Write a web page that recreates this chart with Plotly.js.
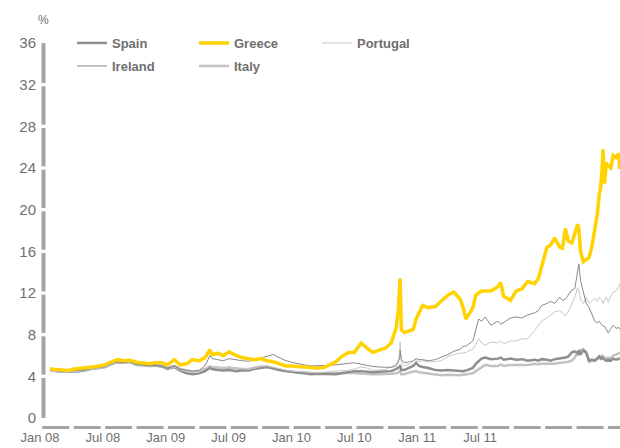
<!DOCTYPE html>
<html><head><meta charset="utf-8">
<script src="https://cdn.plot.ly/plotly-3.0.1.min.js"></script>
<style>html,body{margin:0;padding:0;background:#fff}#chart{width:620px;height:448px}</style>
</head><body><div id="chart"></div>
<script>
const dates = [
'2008-01-02','2008-01-15','2008-02-01','2008-02-15','2008-03-01','2008-03-15','2008-04-01','2008-04-15','2008-05-01','2008-05-15','2008-06-01','2008-06-15',
'2008-07-01','2008-07-15','2008-08-01','2008-08-15','2008-09-01','2008-09-15','2008-10-01','2008-10-15','2008-11-01','2008-11-15','2008-12-01','2008-12-15',
'2009-01-01','2009-01-15','2009-01-27','2009-02-01','2009-02-15','2009-03-01','2009-03-15','2009-04-01','2009-04-15','2009-05-01','2009-05-15','2009-06-01','2009-06-15',
'2009-07-01','2009-07-15','2009-08-01','2009-08-15','2009-09-01','2009-09-15','2009-10-01','2009-10-15','2009-11-01','2009-11-15','2009-12-01','2009-12-15',
'2010-01-01','2010-01-15','2010-02-01','2010-02-15','2010-03-01','2010-03-15','2010-04-01','2010-04-15','2010-04-27','2010-05-03','2010-05-06','2010-05-07','2010-05-10','2010-05-17',
'2010-06-01','2010-06-08','2010-06-15','2010-06-22','2010-07-01','2010-07-15','2010-08-01','2010-08-15','2010-09-01','2010-09-15','2010-10-01','2010-10-08','2010-10-15',
'2010-11-01','2010-11-08','2010-11-15','2010-11-22','2010-12-01','2010-12-15',
'2011-01-01','2011-01-08','2011-01-15','2011-02-01','2011-02-15','2011-03-01','2011-03-15','2011-04-01','2011-04-10','2011-04-18','2011-05-01','2011-05-10','2011-05-20',
'2011-06-01','2011-06-08','2011-06-15','2011-06-22','2011-07-01','2011-07-08','2011-07-15','2011-07-18','2011-07-22','2011-07-29','2011-08-05','2011-08-12','2011-08-19','2011-08-26',
'2011-09-01','2011-09-06','2011-09-09','2011-09-13','2011-09-15','2011-09-19','2011-09-23','2011-09-28','2011-10-04','2011-10-10','2011-10-17','2011-10-24','2011-10-26'
];

const greece = [
4.7,4.65,4.6,4.55,4.7,4.75,4.8,4.9,5.0,5.1,5.4,5.6,
5.5,5.55,5.35,5.3,5.2,5.3,5.3,5.1,5.6,5.1,5.2,5.6,
5.5,5.8,6.55,6.1,6.2,6.0,6.35,6.0,5.8,5.7,5.6,5.7,5.5,
5.4,5.2,5.0,5.0,4.95,4.9,4.85,4.8,4.85,5.1,5.4,5.9,
6.3,6.3,7.2,6.7,6.3,6.5,6.7,7.2,8.6,10.5,12.0,13.4,8.5,8.2,
8.4,8.5,9.5,10.0,10.8,10.6,10.7,11.2,11.8,12.1,11.4,10.6,9.5,
10.6,11.8,12.0,12.2,12.2,12.2,
12.6,13.0,11.7,11.3,12.2,12.4,13.1,12.9,13.4,14.5,16.4,16.6,17.3,
16.4,16.3,18.2,17.0,16.8,17.6,18.6,18.2,16.0,15.0,15.2,15.4,16.5,18.2,
19.5,21.5,22.0,24.0,25.8,22.5,24.5,24.2,24.0,25.2,25.0,25.4,23.9
];

const ireland = [
4.65,4.55,4.5,4.5,4.6,4.55,4.65,4.8,4.85,4.95,5.25,5.4,
5.35,5.4,5.15,5.1,5.0,5.05,4.95,4.75,5.0,4.7,4.6,4.5,
4.6,5.0,6.0,5.7,5.6,5.5,5.7,5.55,5.5,5.45,5.55,5.75,5.9,
6.1,5.8,5.5,5.35,5.25,5.1,5.0,5.0,5.0,5.05,5.1,5.2,
5.25,5.3,5.15,5.05,4.95,4.9,4.85,4.85,5.0,5.4,5.8,6.5,5.6,5.3,
5.4,5.5,5.7,5.6,5.6,5.5,5.6,5.8,6.1,6.4,6.6,6.9,6.9,
7.4,8.4,9.5,9.3,9.7,8.9,
9.3,9.0,9.2,9.6,9.7,9.6,9.9,10.1,10.3,10.8,11.0,11.2,11.0,
11.6,11.3,11.4,11.8,12.3,12.4,13.9,14.8,13.2,12.0,11.0,10.6,10.0,9.3,
9.1,9.3,9.1,8.9,8.8,8.8,8.5,8.15,8.6,8.9,8.6,8.7,8.5
];

const portugal = [
4.55,4.45,4.4,4.4,4.5,4.45,4.55,4.7,4.75,4.85,5.15,5.3,
5.25,5.35,5.05,5.0,4.95,5.0,4.9,4.7,4.9,4.6,4.5,4.35,
4.4,4.7,5.0,4.9,4.85,4.8,4.9,4.8,4.7,4.65,4.75,4.95,5.0,
4.85,4.7,4.6,4.5,4.45,4.4,4.35,4.35,4.4,4.45,4.45,4.5,
4.6,4.7,4.9,4.8,4.6,4.6,4.65,4.9,5.2,5.6,6.2,7.3,5.4,5.0,
5.2,5.5,5.6,5.4,5.5,5.4,5.4,5.5,5.9,6.1,6.2,6.3,6.3,
6.6,7.1,7.6,7.2,7.0,7.3,
7.2,7.4,7.1,7.4,7.4,7.6,7.6,8.4,8.9,9.3,9.6,9.9,10.2,
10.3,10.0,9.8,10.2,11.0,11.6,12.5,12.3,11.4,11.0,11.6,11.0,11.2,11.5,
11.2,11.6,11.4,11.3,11.0,11.4,11.6,11.1,11.7,12.1,12.2,12.6,12.9
];

const spain = [
4.6,4.5,4.45,4.45,4.5,4.5,4.6,4.75,4.8,4.9,5.2,5.35,
5.3,5.4,5.1,5.1,5.0,5.05,4.95,4.7,4.9,4.55,4.3,4.2,
4.3,4.5,4.8,4.7,4.6,4.55,4.6,4.5,4.55,4.55,4.7,4.85,4.9,
4.75,4.6,4.5,4.4,4.35,4.3,4.2,4.25,4.25,4.25,4.2,4.3,
4.45,4.5,4.5,4.45,4.4,4.45,4.45,4.5,4.7,4.8,4.9,5.1,4.6,4.6,
4.9,5.0,5.3,5.0,4.9,4.8,4.6,4.55,4.6,4.55,4.5,4.5,4.55,
4.8,5.2,5.5,5.7,5.8,5.65,
5.7,5.8,5.6,5.7,5.6,5.65,5.5,5.6,5.5,5.65,5.6,5.5,5.65,
5.7,5.8,5.8,5.9,6.3,6.4,6.2,6.5,6.1,6.5,6.3,5.5,5.6,5.5,
5.7,5.9,5.7,5.8,5.7,5.6,5.5,5.6,5.5,5.7,5.6,5.7,5.6
];

const italy = [
4.7,4.6,4.55,4.5,4.6,4.6,4.7,4.85,4.9,5.0,5.3,5.45,
5.4,5.45,5.2,5.15,5.05,5.1,5.0,4.8,5.0,4.7,4.55,4.45,
4.5,4.7,4.95,4.9,4.85,4.8,4.85,4.75,4.7,4.7,4.8,4.95,4.95,
4.8,4.65,4.5,4.45,4.4,4.35,4.3,4.3,4.3,4.3,4.25,4.3,
4.35,4.3,4.3,4.25,4.2,4.2,4.2,4.25,4.3,4.35,4.5,4.6,4.2,4.2,
4.4,4.45,4.5,4.4,4.35,4.25,4.2,4.1,4.15,4.1,4.1,4.15,4.2,
4.3,4.5,4.7,4.9,5.1,5.0,
5.0,5.15,5.0,5.1,5.1,5.15,5.1,5.2,5.15,5.2,5.2,5.15,5.2,
5.3,5.3,5.35,5.4,5.5,5.8,6.3,6.0,6.5,6.6,6.2,5.4,5.5,5.6,
5.7,5.9,5.8,6.0,5.9,5.8,5.7,5.8,5.7,6.0,6.1,6.2,6.25
];

const xTickLabels = ['Jan 08','Jul 08','Jan 09','Jul 09','Jan 10','Jul 10','Jan 11','Jul 11'];
const yTickValues = [0,4,8,12,16,20,24,28,32,36];

const FONT = 'Liberation Sans, Arial, sans-serif';
const TEXT = '#6f6f6f';
const AXIS = '#a4a4a4';

const series = [
  {name:'Italy',    y: italy,    color:'#c2c2c2', width:2.5, legend:'legend5'},
  {name:'Spain',    y: spain,    color:'#8e8e8e', width:2.5, legend:'legend'},
  {name:'Portugal', y: portugal, color:'#c8c8c8', width:1,   legend:'legend3'},
  {name:'Ireland',  y: ireland,  color:'#8a8a8a', width:1,   legend:'legend4'},
  {name:'Greece',   y: greece,   color:'#ffd200', width:3.5, legend:'legend2'}
];

const traces = series.map(s => ({
  type:'scatter', mode:'lines', name:s.name, x:dates, y:s.y,
  line:{color:s.color, width:s.width}, legend:s.legend, hoverinfo:'skip'
}));

// plot area: left 37px, right 620px, top 43px, bottom 418px
const L = 37, W = 583, T = 43, H = 375;
const px2paperX = p => (p - L) / W;
const px2paperY = p => (T + H - p) / H;

function legendAt(xp, yp) {
  return {
    x: px2paperX(xp), y: px2paperY(yp), xanchor:'left', yanchor:'middle',
    orientation:'h', bgcolor:'rgba(0,0,0,0)', borderwidth:0,
    font:{family:FONT, size:13, color:TEXT, weight:'bold'},
    itemclick:false, itemdoubleclick:false
  };
}

const shapes = [];
// y axis line, broken at each tick
const yLineX = px2paperX(43.5);
for (let k = 0; k < yTickValues.length - 1; k++) {
  const a = yTickValues[k], b = yTickValues[k+1];
  shapes.push({type:'line', xref:'paper', yref:'y', x0:yLineX, x1:yLineX,
    y0: k === 0 ? a : a + 0.16, y1: k === yTickValues.length - 2 ? b : b - 0.16,
    line:{color:AXIS, width:4}});
}
// x axis line, broken every quarter
for (let k = 0; k < 19; k++) {
  shapes.push({type:'line', xref:'x2', yref:'paper', x0:k*0.5 + 0.035, x1:(k+1)*0.5 - 0.035,
    y0: px2paperY(427.5), y1: px2paperY(427.5), line:{color:AXIS, width:3}});
}

const layout = {
  width:620, height:448,
  margin:{l:L, r:620 - L - W, t:T, b:448 - T - H, pad:0},
  paper_bgcolor:'#fff', plot_bgcolor:'#fff',
  font:{family:FONT, color:TEXT},
  xaxis:{type:'date', range:['2007-12-01 05:00','2011-10-26 14:00'],
    showticklabels:false, showgrid:false, zeroline:false, showline:false, ticks:'', fixedrange:true},
  xaxis2:{overlaying:'x', anchor:'y', side:'bottom', range:[-0.048, 9.227],
    tickmode:'array', tickvals:xTickLabels.map((_, i) => i), ticktext:xTickLabels,
    showgrid:false, zeroline:false, showline:false,
    ticks:'outside', ticklen:7, tickcolor:'rgba(0,0,0,0)',
    tickfont:{family:FONT, size:13, color:TEXT}, fixedrange:true},
  yaxis:{range:[0,36], tickmode:'array', tickvals:yTickValues,
    showgrid:false, zeroline:false, showline:false, ticks:'',
    tickfont:{family:FONT, size:15, color:TEXT}, fixedrange:true},
  showlegend:true,
  legend:  legendAt(72, 43),
  legend2: legendAt(194, 43),
  legend3: legendAt(317, 43),
  legend4: legendAt(72, 66),
  legend5: legendAt(194, 66),
  shapes:shapes,
  annotations:[{text:'%', xref:'paper', yref:'paper', x:px2paperX(43), y:px2paperY(20),
    xanchor:'center', yanchor:'middle', showarrow:false, font:{family:FONT, size:12, color:TEXT}}]
};

Plotly.newPlot('chart', traces, layout, {staticPlot:true, displayModeBar:false});
</script>
</body></html>
